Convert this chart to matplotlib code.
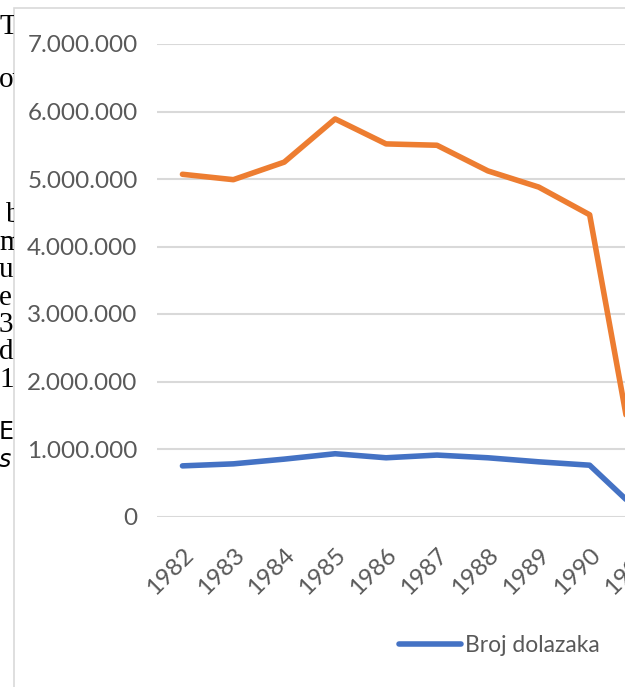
import matplotlib
matplotlib.use("Agg")
import matplotlib.pyplot as plt
from matplotlib.patches import Rectangle
from matplotlib.ticker import FuncFormatter, MultipleLocator

years = ["1982", "1983", "1984", "1985", "1986", "1987", "1988", "1989", "1990", "1991"]
nocenja = [5070000, 4990000, 5250000, 5890000, 5520000, 5500000, 5120000, 4880000, 4470000, 320000]
dolasci = [750000, 780000, 850000, 930000, 870000, 910000, 870000, 810000, 760000, 50000]
series_names = ["Broj dolazaka", "Broj noćenja"]
side_text = ["T", "ov", "b", "m", "u", "e", "3.", "d", "1'", "EF", "s"]

W, H = 625, 687
fig = plt.figure(figsize=(W / 100, H / 100), dpi=100)
fig.patch.set_facecolor("white")

GRAY = "#595959"
FONT = "Lato"

# chart area border
fig.patches.append(Rectangle((14 / W, -0.1), 1.2, (H - 8) / H + 0.1, transform=fig.transFigure,
                             facecolor="white", edgecolor="#d9d9d9", linewidth=1.2, zorder=-1))

# left strip with clipped document text
tax = fig.add_axes([0, 0, 13.5 / W, 1])
tax.set_xlim(0, 13.5)
tax.set_ylim(H, 0)
tax.axis("off")
ys = [27, 80, 215, 243, 270, 298, 325, 352, 380, 432, 460]
xs = [-1, -1, 6, -1, -1, -1, -1, -1, -1, -1, -1]
for t, x, y in zip(side_text, xs, ys):
    if t == "EF":
        tax.text(x, y, t, fontsize=17, family="DejaVu Sans", va="center", ha="left", clip_on=True)
    elif t == "s":
        tax.text(x, y, t, fontsize=17, family="DejaVu Sans", style="italic", va="center", ha="left", clip_on=True)
    else:
        tax.text(x, y, t, fontsize=21, family="Liberation Serif", va="center", ha="left", clip_on=True)

left = 157 / W
bottom = (H - 516.5) / H
top = (H - 44) / H
spacing = 50.9
width = (spacing * 10) / W
ax = fig.add_axes([left, bottom, width, top - bottom])
ax.patch.set_alpha(0)

x = list(range(len(years)))
ax.plot(x, dolasci, color="#4472C4", lw=4.0, solid_capstyle="round", solid_joinstyle="round",
        label=series_names[0], zorder=3)
ax.plot(x, nocenja, color="#ED7D31", lw=4.0, solid_capstyle="round", solid_joinstyle="round",
        label=series_names[1], zorder=3)

ax.set_xlim(-0.5, 9.5)
ax.set_ylim(0, 7000000)
ax.yaxis.set_major_locator(MultipleLocator(1000000))
ax.yaxis.set_major_formatter(FuncFormatter(lambda v, p: "0" if v == 0 else f"{int(v):,}".replace(",", ".")))
ax.grid(axis="y", color="#d9d9d9", lw=1.5)
ax.set_axisbelow(True)
for s in ax.spines.values():
    s.set_visible(False)
ax.tick_params(axis="both", length=0)
ax.tick_params(axis="y", pad=14, labelsize=17.5, labelcolor=GRAY)
ax.set_xticks(x)
ax.set_xticklabels(years)
for lbl in ax.get_xticklabels():
    lbl.set_rotation(45)
    lbl.set_ha("right")
    lbl.set_va("top")
    lbl.set_rotation_mode("anchor")
    lbl.set_fontsize(17.5)
    lbl.set_color(GRAY)
    lbl.set_family(FONT)
for lbl in ax.get_yticklabels():
    lbl.set_family(FONT)
ax.tick_params(axis="x", pad=20)

leg = fig.legend(loc="center left", bbox_to_anchor=(399 / W, (H - 646) / H), ncol=2, frameon=False,
                 handlelength=2.7, handletextpad=0.2, borderpad=0, borderaxespad=0,
                 prop={"family": FONT, "size": 16.5})
for t in leg.get_texts():
    t.set_color(GRAY)

fig.savefig("out.png", dpi=100, facecolor="white")
